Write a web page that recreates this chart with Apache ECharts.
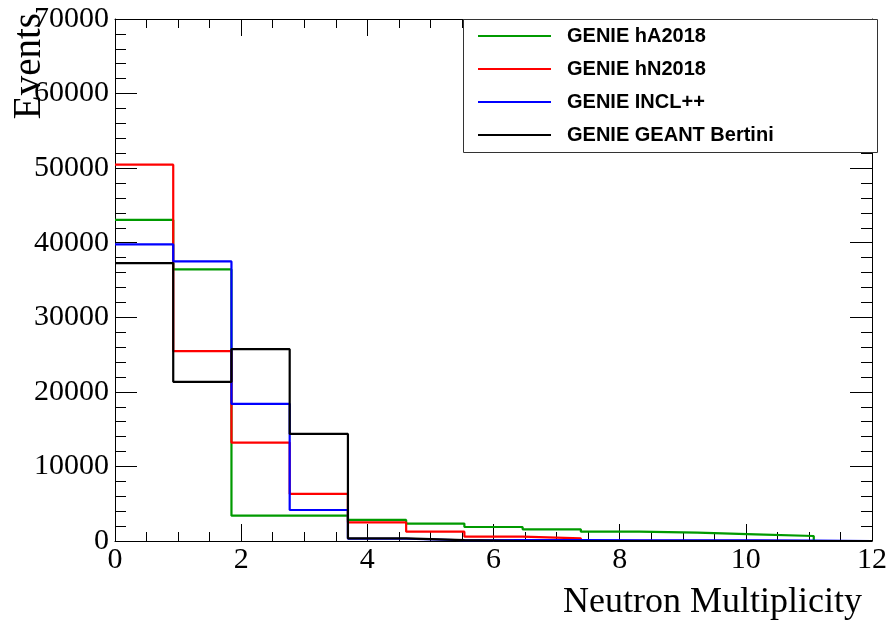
<!DOCTYPE html>
<html>
<head>
<meta charset="utf-8">
<script src="https://cdn.jsdelivr.net/npm/echarts@6/dist/echarts.min.js"></script>
<style>html,body{margin:0;padding:0;background:#fff;}#c{width:890px;height:622px;}</style>
</head>
<body>
<div id="c"></div>
<script>
// Histogram: 13 bins spanning 0..12
const xMin = 0, xMax = 12, nBins = 13;
const xTicks = [0, 2, 4, 6, 8, 10, 12];
const yTicks = [0, 10000, 20000, 30000, 40000, 50000, 60000, 70000];
const seriesNames = ['GENIE hA2018', 'GENIE hN2018', 'GENIE INCL++', 'GENIE GEANT Bertini'];
const hA2018  = [43050, 36420, 3400, 3400, 2820, 2330, 1880, 1570, 1250, 1120, 900, 670, 0];
const hN2018  = [50470, 25460, 13200, 6310, 2500, 1250, 580, 360, 30, 15, 5, 0, 0];
const incl    = [39770, 37490, 18390, 4160, 300, 100, 120, 110, 100, 90, 80, 70, 0];
const bertini = [37270, 21340, 25730, 14360, 360, 130, 0, 0, 0, 0, 0, 0, 0];
const colors = ['#009a00', '#ff0000', '#0000ff', '#000000'];

const binW = (xMax - xMin) / nBins;
function stepData(vals) {
  const d = vals.map((v, i) => [xMin + i * binW, v]);
  d.push([xMax, vals[vals.length - 1]]);
  return d;
}
const allVals = [hA2018, hN2018, incl, bertini];

const serif = 'Liberation Serif, Times New Roman, serif';
const chart = echarts.init(document.getElementById('c'), null, {renderer: 'canvas'});

function xAx(pos, showLabel) {
  return {
    type: 'value', position: pos, min: xMin, max: xMax, interval: 2,
    axisLine: {show: true, onZero: false, lineStyle: {color: '#000', width: 1}},
    axisTick: {show: true, inside: true, length: 17, lineStyle: {color: '#000', width: 1}},
    minorTick: {show: true, splitNumber: 4, length: 9, lineStyle: {color: '#000', width: 1}},
    splitLine: {show: false},
    axisLabel: {show: showLabel, color: '#000', fontFamily: serif, fontSize: 30, margin: 4,
      formatter: v => String(v)}
  };
}
function yAx(pos, showLabel) {
  return {
    type: 'value', position: pos, min: 0, max: 70000, interval: 10000,
    axisLine: {show: true, onZero: false, lineStyle: {color: '#000', width: 1}},
    axisTick: {show: true, inside: true, length: 22, lineStyle: {color: '#000', width: 1}},
    minorTick: {show: true, splitNumber: 5, length: 11, lineStyle: {color: '#000', width: 1}},
    splitLine: {show: false},
    axisLabel: {show: showLabel, color: '#000', fontFamily: serif, fontSize: 30, margin: 6,
      formatter: v => String(v)}
  };
}

chart.setOption({
  animation: false,
  backgroundColor: '#fff',
  grid: {left: 115, right: 13, top: 19, bottom: 81, containLabel: false},
  xAxis: [xAx('bottom', true), xAx('top', false)],
  yAxis: [yAx('left', true), yAx('right', false)],
  legend: {
    show: true, orient: 'vertical', left: 478, top: 26, padding: 0,
    itemWidth: 73, itemHeight: 2, itemGap: 13, icon: 'rect',
    data: seriesNames,
    textStyle: {fontFamily: 'Liberation Sans, Arial, sans-serif', fontWeight: 'bold',
      fontSize: 20, lineHeight: 20, color: '#000', padding: [0, 0, 0, 11]},
    selectedMode: false, z: 10
  },
  graphic: [
    {type: 'rect', shape: {x: 463.5, y: 19.5, width: 414, height: 133}, z: 5,
      style: {fill: '#fff', stroke: '#333', lineWidth: 1}},
    {type: 'text', x: 30, y: 13, rotation: Math.PI / 2,
      style: {text: 'Events', font: '39px ' + serif, fill: '#000', textAlign: 'right', textVerticalAlign: 'middle'}},
    {type: 'text', x: 862, y: 603,
      style: {text: 'Neutron Multiplicity', font: '36px ' + serif, fill: '#000', textAlign: 'right', textVerticalAlign: 'middle'}}
  ],
  series: seriesNames.map((name, k) => ({
    name: name, type: 'line', step: 'end', data: stepData(allVals[k]),
    showSymbol: false, symbol: 'none', clip: false,
    lineStyle: {color: colors[k], width: 2.2}, itemStyle: {color: colors[k]},
    z: 2 + k
  }))
});
</script>
</body>
</html>
